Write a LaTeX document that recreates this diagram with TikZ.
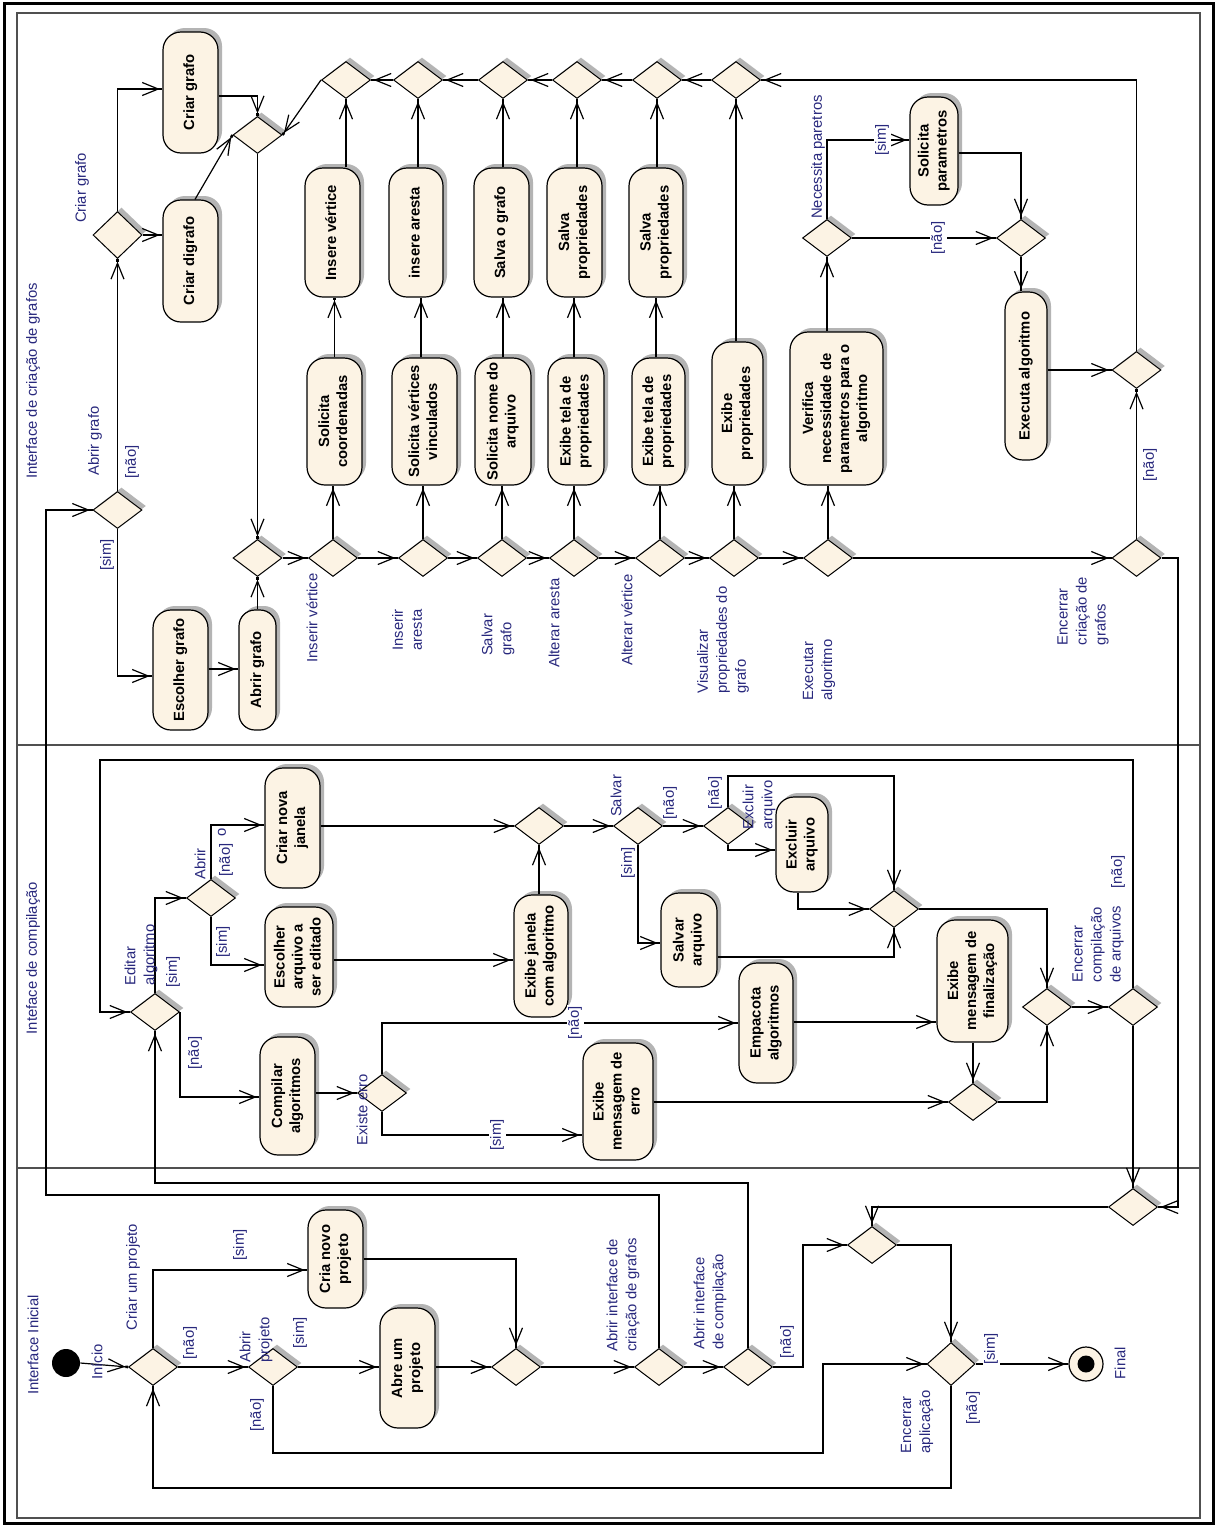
\documentclass[tikz,border=0pt]{standalone}
\usepackage{fontspec}
\setmainfont{Liberation Sans}
\usetikzlibrary{shapes.geometric,arrows.meta,shadows}
\definecolor{beige}{RGB}{252,243,228}
\definecolor{lblcol}{RGB}{40,40,125}
\definecolor{shadowgray}{RGB}{180,180,180}
\definecolor{framegray}{RGB}{80,80,80}
\newcommand\rtext[1]{\rotatebox{90}{\begin{tabular}{@{}c@{}}#1\end{tabular}}}
\begin{document}
\begin{tikzpicture}[x=0.5pt,y=-0.5pt,
  shad/.style={drop shadow={shadow xshift=2pt,shadow yshift=2pt,fill=shadowgray,opacity=1}},
  act/.style={draw=black,line width=0.6pt,fill=beige,rounded corners=9pt,inner sep=0pt,shad,
    font=\fontsize{7.4}{9}\selectfont\bfseries},
  dec/.style={diamond,draw=black,line width=0.5pt,fill=beige,inner sep=0pt,
    minimum width=24.5pt,minimum height=18.5pt,shad},
  lbl/.style={rotate=90,text=lblcol,font=\fontsize{7.4}{9.5}\selectfont,align=left,inner sep=0.8pt},
  grd/.style={lbl,fill=white},
  arr/.style={line width=0.6pt,-{Straight Barb[length=8pt,width=6.5pt,sep=0pt]Square[length=1.3pt,width=1.3pt]}},
  ln/.style={line width=0.6pt}
]
\useasboundingbox (0,0) rectangle (1218,1526);
\fill[white] (0,0) rectangle (1218,1526);
% frames and lanes
\draw[line width=1.5pt] (4,3) rectangle (1213,1523);
\draw[line width=0.6pt,framegray] (17,13) rectangle (1200,1518);
\draw[line width=0.6pt,framegray] (17,745) -- (1200,745);
\draw[line width=0.6pt,framegray] (17,1168) -- (1200,1168);

\node[lbl] (lane1) at (33,381) {Interface de criação de grafos};
\node[lbl] (lane2) at (33,958) {Inteface de compilação};
\node[lbl] (lane3) at (33,1345) {Interface Inicial};

% ===== top lane: actions
\node[act,minimum width=27.5pt,minimum height=60.5pt] (cgrafo) at (190.5,92.5) {\rtext{Criar grafo}};
\node[act,minimum width=27.5pt,minimum height=61pt] (cdigrafo) at (190.5,261) {\rtext{Criar digrafo}};
\node[act,minimum width=27.5pt,minimum height=60pt] (escolher) at (180.5,670) {\rtext{Escolher grafo}};
\node[act,minimum width=18.5pt,minimum height=60pt,rounded corners=8pt] (abrirg) at (257.5,670) {\rtext{Abrir grafo}};
\node[act,minimum width=27.5pt,minimum height=63.5pt] (solcoord) at (334.5,421.5) {\rtext{Solicita\\coordenadas}};
\node[act,minimum width=32.5pt,minimum height=63.5pt] (solvert) at (424.5,421.5) {\rtext{Solicita vértices\\vinculados}};
\node[act,minimum width=28pt,minimum height=63.5pt] (solnome) at (503,421.5) {\rtext{Solicita nome do\\arquivo}};
\node[act,minimum width=28pt,minimum height=63.5pt] (exibetela1) at (576,421.5) {\rtext{Exibe tela de\\propriedades}};
\node[act,minimum width=26.5pt,minimum height=63.5pt] (exibetela2) at (658.5,421.5) {\rtext{Exibe tela de\\propriedades}};
\node[act,minimum width=25.5pt,minimum height=71.5pt] (exibeprop) at (737.5,413.5) {\rtext{Exibe\\propriedades}};
\node[act,minimum width=46.5pt,minimum height=76.5pt] (verifica) at (836.5,408.5) {\rtext{Verifica\\necessidade de\\parametros para o\\algoritmo}};
\node[act,minimum width=27.5pt,minimum height=64.5pt] (insvert) at (332.5,232.5) {\rtext{Insere vértice}};
\node[act,minimum width=27pt,minimum height=64.5pt] (insaresta) at (416,232.5) {\rtext{insere aresta}};
\node[act,minimum width=27.5pt,minimum height=64.5pt] (salvagrafo) at (501.5,232.5) {\rtext{Salva o grafo}};
\node[act,minimum width=27.5pt,minimum height=64.5pt] (salvaprop1) at (574.5,232.5) {\rtext{Salva\\propriedades}};
\node[act,minimum width=27pt,minimum height=64.5pt] (salvaprop2) at (656,232.5) {\rtext{Salva\\propriedades}};
\node[act,minimum width=24pt,minimum height=54pt] (solparam) at (934,151) {\rtext{Solicita\\parametros}};
\node[act,minimum width=21pt,minimum height=84pt] (executa) at (1026,376) {\rtext{Executa algoritmo}};

% ===== top lane: decisions
\node[dec,minimum height=23.5pt] (dcg) at (117.5,235) {};
\node[dec] (dag) at (117.5,510) {};
\node[dec] (mtop) at (257.5,135) {};
\node[dec] (t1) at (346,80) {};
\node[dec] (t2) at (418,80) {};
\node[dec] (t3) at (503,80) {};
\node[dec] (t4) at (577,80) {};
\node[dec] (t5) at (657,80) {};
\node[dec] (t6) at (736,80) {};
\node[dec] (m0) at (257.5,558) {};
\node[dec] (b1) at (333,558) {};
\node[dec] (b2) at (423,558) {};
\node[dec] (b3) at (502,558) {};
\node[dec] (b4) at (574,558) {};
\node[dec] (b5) at (660,558) {};
\node[dec] (b6) at (734,558) {};
\node[dec] (b7) at (828,558) {};
\node[dec] (benc) at (1136.5,558) {};
\node[dec] (dnp) at (827,238) {};
\node[dec] (dm2) at (1021,238) {};
\node[dec] (mexec) at (1136.5,370) {};

% ===== middle lane
\node[act,minimum width=27.5pt,minimum height=60pt] (criarjanela) at (292.5,828) {\rtext{Criar nova\\janela}};
\node[act,minimum width=34pt,minimum height=50pt] (escolherarq) at (299,957) {\rtext{Escolher\\arquivo a\\ser editado}};
\node[act,minimum width=27.5pt,minimum height=59pt] (compilar) at (287.5,1096) {\rtext{Compilar\\algoritmos}};
\node[act,minimum width=27pt,minimum height=61pt] (exibejanela) at (541,956) {\rtext{Exibe janela\\com algoritmo}};
\node[act,minimum width=28pt,minimum height=47pt] (salvararq) at (689,940) {\rtext{Salvar\\arquivo}};
\node[act,minimum width=26pt,minimum height=47.5pt] (excluirarq) at (802,844.5) {\rtext{Excluir\\arquivo}};
\node[act,minimum width=35pt,minimum height=58.5pt] (exibeerro) at (618,1101.5) {\rtext{Exibe\\mensagem de\\erro}};
\node[act,minimum width=27pt,minimum height=60pt] (empacota) at (766,1023) {\rtext{Empacota\\algoritmos}};
\node[act,minimum width=35.5pt,minimum height=61pt] (exibefin) at (972.5,981) {\rtext{Exibe\\mensagem de\\finalização}};

\node[dec] (ded) at (155,1012) {};
\node[dec] (dab) at (211,898) {};
\node[dec] (dee) at (382,1093) {};
\node[dec] (dmj) at (539,826) {};
\node[dec] (dsv) at (638,826) {};
\node[dec] (dex) at (728,826) {};
\node[dec] (dm3) at (894,909) {};
\node[dec] (dm4) at (1047,1007) {};
\node[dec] (dm5) at (973,1102) {};
\node[dec] (dencc) at (1133,1007) {};

% ===== bottom lane
\node[circle,fill=black,minimum size=14pt,inner sep=0pt] (init) at (66,1363) {};
\node[circle,draw=black,line width=0.6pt,fill=beige,minimum size=17pt,inner sep=0pt] (final) at (1086,1364) {};
\node[circle,fill=black,minimum size=8.5pt,inner sep=0pt] (finaldot) at (1086,1364) {};
\node[act,minimum width=27.5pt,minimum height=49pt] (crianovo) at (335.5,1259) {\rtext{Cria novo\\projeto}};
\node[act,minimum width=27.5pt,minimum height=60pt] (abreum) at (407.5,1368) {\rtext{Abre um\\projeto}};

\node[dec] (dcp) at (153,1367) {};
\node[dec] (dap) at (273,1367) {};
\node[dec] (dmp) at (516,1367) {};
\node[dec] (daig) at (659,1367) {};
\node[dec] (daic) at (748,1367) {};
\node[dec] (dm6) at (872,1245) {};
\node[dec] (dfin) at (1133,1207) {};
\node[dec,minimum width=24pt,minimum height=21.5pt] (dea) at (951,1364) {};

% ===== connectors: top lane
\draw[arr] (dcg.north) |- (cgrafo.west |- 0,89);
\draw[arr] (dcg.east) -- (dcg.east -| cdigrafo.west);
\draw[arr] (cgrafo.east |- 0,96) -| (mtop.north);
\draw[arr] (cdigrafo.north -| 195,0) -- (mtop.west);
\draw[arr] (t1.west) -- (mtop.east);
\draw[arr] (mtop.south) -- (m0.north);
\draw[arr] (t2.west) -- (t1.east);
\draw[arr] (t3.west) -- (t2.east);
\draw[arr] (t4.west) -- (t3.east);
\draw[arr] (t5.west) -- (t4.east);
\draw[arr] (t6.west) -- (t5.east);
\draw[arr] (mexec.north) |- (t6.east);
\draw[arr] (t1.south |- insvert.north) -- (t1.south);
\draw[arr] (t2.south |- insaresta.north) -- (t2.south);
\draw[arr] (t3.south |- salvagrafo.north) -- (t3.south);
\draw[arr] (t4.south |- salvaprop1.north) -- (t4.south);
\draw[arr] (t5.south |- salvaprop2.north) -- (t5.south);
\draw[arr] (t6.south |- exibeprop.north) -- (t6.south);
\draw[arr] (solcoord.north) -- (solcoord.north |- insvert.south);
\draw[arr] (solvert.north -| 421,0) -- (insaresta.south -| 421,0);
\draw[arr] (solnome.north -| 503,0) -- (salvagrafo.south -| 503,0);
\draw[arr] (exibetela1.north -| 574,0) -- (salvaprop1.south -| 574,0);
\draw[arr] (exibetela2.north -| 656,0) -- (salvaprop2.south -| 656,0);
\draw[arr] (b1.north) -- (b1.north |- solcoord.south);
\draw[arr] (b2.north) -- (b2.north |- solvert.south);
\draw[arr] (b3.north) -- (b3.north |- solnome.south);
\draw[arr] (b4.north) -- (b4.north |- exibetela1.south);
\draw[arr] (b5.north) -- (b5.north |- exibetela2.south);
\draw[arr] (b6.north) -- (b6.north |- exibeprop.south);
\draw[arr] (b7.north) -- (b7.north |- verifica.south);
\draw[arr] (m0.east) -- (b1.west);
\draw[arr] (b1.east) -- (b2.west);
\draw[arr] (b2.east) -- (b3.west);
\draw[arr] (b3.east) -- (b4.west);
\draw[arr] (b4.east) -- (b5.west);
\draw[arr] (b5.east) -- (b6.west);
\draw[arr] (b6.east) -- (b7.west);
\draw[arr] (b7.east) -- (benc.west);
\draw[arr] (dag.south) |- (escolher.west |- 0,676);
\draw[arr] (dag.north) -- (dcg.south);
\draw[arr] (escolher.east |- 0,669) -- (abrirg.west |- 0,669);
\draw[arr] (abrirg.north) -- (m0.south);
\draw[arr] (verifica.north -| dnp.south) -- (dnp.south);
\draw[arr] (dnp.north) |- (solparam.west |- 0,140);
\draw[arr] (dnp.east) -- (dm2.west);
\draw[arr] (solparam.east |- 0,153) -| (dm2.north);
\draw[arr] (dm2.south) -- (dm2.south |- executa.north);
\draw[arr] (executa.east |- mexec.west) -- (mexec.west);
\draw[arr] (benc.north) -- (mexec.south);
\draw[arr] (benc.east) -- (1178,558) |- (dfin.east);

% ===== connectors: middle lane
\draw[arr] (dencc.north) |- (100,760) |- (ded.west);
\draw[arr] (ded.north) |- (dab.west);
\draw[arr] (dab.north) |- (criarjanela.west |- 0,825);
\draw[arr] (dab.south) |- (escolherarq.west |- 0,965);
\draw[arr] (ded.east) |- (compilar.west |- 0,1097);
\draw[arr] (compilar.east |- dee.west) -- (dee.west);
\draw[arr] (dee.north) |- (empacota.west |- 0,1023);
\draw[arr] (dee.south) |- (exibeerro.west |- 0,1135);
\draw[arr] (escolherarq.east |- 0,960) -- (exibejanela.west |- 0,960);
\draw[arr] (criarjanela.east |- dmj.west) -- (dmj.west);
\draw[arr] (dmj.south |- exibejanela.north) -- (dmj.south);
\draw[arr] (dmj.east) -- (dsv.west);
\draw[arr] (dsv.south) |- (salvararq.west |- 0,943);
\draw[arr] (dsv.east) -- (dex.west);
\draw[arr] (dex.north) |- (dm3.north |- 0,776) -- (dm3.north);
\draw[arr] (dex.south) |- (excluirarq.west |- 0,850);
\draw[arr] (excluirarq.south -| 798,0) |- (dm3.west);
\draw[arr] (salvararq.east |- 0,957) -| (dm3.south);
\draw[arr] (dm3.east) -| (dm4.north);
\draw[arr] (empacota.east |- 0,1022) -- (exibefin.west |- 0,1022);
\draw[arr] (exibefin.south -| dm5.north) -- (dm5.north);
\draw[arr] (exibeerro.east |- dm5.west) -- (dm5.west);
\draw[arr] (dm5.east) -| (dm4.south);
\draw[arr] (dm4.east) -- (dencc.west);
\draw[arr] (dencc.south) -- (dfin.north);

% ===== connectors: bottom lane
\draw[arr] (init.east) -- (dcp.west);
\draw[arr] (dcp.north) |- (crianovo.west |- 0,1270);
\draw[arr] (dcp.east) -- (dap.west);
\draw[arr] (dap.east) -- (abreum.west |- dap.east);
\draw[arr] (dap.south) |- (823,1453) |- (dea.west);
\draw[arr] (dea.south) -- (951,1488) -| (dcp.south);
\draw[arr] (crianovo.east |- 0,1259) -| (dmp.north);
\draw[arr] (abreum.east |- dmp.west) -- (dmp.west);
\draw[arr] (dmp.east) -- (daig.west);
\draw[arr] (daig.east) -- (daic.west);
\draw[arr] (daic.east) -- (803,1367) |- (dm6.west);
\draw[arr] (dm6.east) -| (dea.north);
\draw[arr] (dfin.west) -| (dm6.north);
\draw[arr] (dea.east) -- (final.west);
\draw[arr] (daig.north) |- (46,1195) |- (dag.west);
\draw[arr] (daic.north) |- (ded.south |- 0,1183) -- (ded.south);

% ===== labels: top lane
\node[lbl] (l1) at (82,188) {Criar grafo};
\node[lbl] (l2) at (95,441) {Abrir grafo};
\node[lbl] (l3) at (132,462) {[não]};
\node[lbl] (l4) at (107,555) {[sim]};
\node[lbl] (l5) at (312,618) {Inserir vértice};
\node[lbl] (l6) at (407,630) {Inserir\\aresta};
\node[lbl] (l7) at (498,635) {Salvar\\grafo};
\node[lbl] (l8) at (554,623) {Alterar aresta};
\node[lbl] (l9) at (627,620) {Alterar vértice};
\node[lbl] (l10) at (723,640) {Visualizar\\propriedades do\\grafo};
\node[lbl] (l11) at (819,670) {Executar\\algoritmo};
\node[lbl] (l12) at (1083,611) {Encerrar\\criação de\\grafos};
\node[lbl] (l13) at (818,157) {Necessita paretros};
\node[grd] (l14) at (882,140) {[sim]};
\node[grd] (l15) at (938,238) {[não]};
\node[lbl] (l16) at (1150,465) {[não]};

% ===== labels: middle lane
\node[lbl] (m1) at (141,955) {Editar\\algoritmo};
\node[lbl] (m2) at (173,972) {[sim]};
\node[lbl] (m3) at (200,864) {Abrir};
\node[lbl] (m4) at (226,860) {[não]};
\node[lbl] (m4b) at (222,832) {o};
\node[lbl] (m5) at (223,942) {[sim]};
\node[lbl] (m6) at (195,1053) {[não]};
\node[lbl] (m7) at (362,1110) {Existe erro};
\node[grd] (m8) at (575,1023) {[não]};
\node[grd] (m9) at (497,1135) {[sim]};
\node[lbl] (m10) at (616,796) {Salvar};
\node[lbl] (m11) at (670,803) {[não]};
\node[lbl] (m12) at (628,863) {[sim]};
\node[lbl] (m13) at (715,793) {[não]};
\node[lbl] (m14) at (759,805) {Excluir\\arquivo};
\node[lbl] (m15) at (1098,944) {Encerrar\\compilação\\de arquivos};
\node[lbl] (m16) at (1118,872) {[não]};

% ===== labels: bottom lane
\node[lbl] (n1) at (97,1362) {Início};
\node[lbl] (n2) at (133,1277) {Criar um projeto};
\node[lbl] (n3) at (240,1245) {[sim]};
\node[lbl] (n4) at (190,1343) {[não]};
\node[lbl] (n5) at (256,1340) {Abrir\\projeto};
\node[lbl] (n6) at (300,1333) {[sim]};
\node[lbl] (n7) at (257,1415) {[não]};
\node[lbl] (n8) at (623,1295) {Abrir interface de\\criação de grafos};
\node[lbl] (n9) at (710,1302) {Abrir interface\\de compilação};
\node[lbl] (n10) at (787,1342) {[não]};
\node[lbl] (n11) at (917,1422) {Encerrar\\aplicação};
\node[lbl] (n12) at (973,1408) {[não]};
\node[grd] (n13) at (991,1349) {[sim]};
\node[lbl] (n14) at (1120,1363) {Final};
\end{tikzpicture}
\end{document}
